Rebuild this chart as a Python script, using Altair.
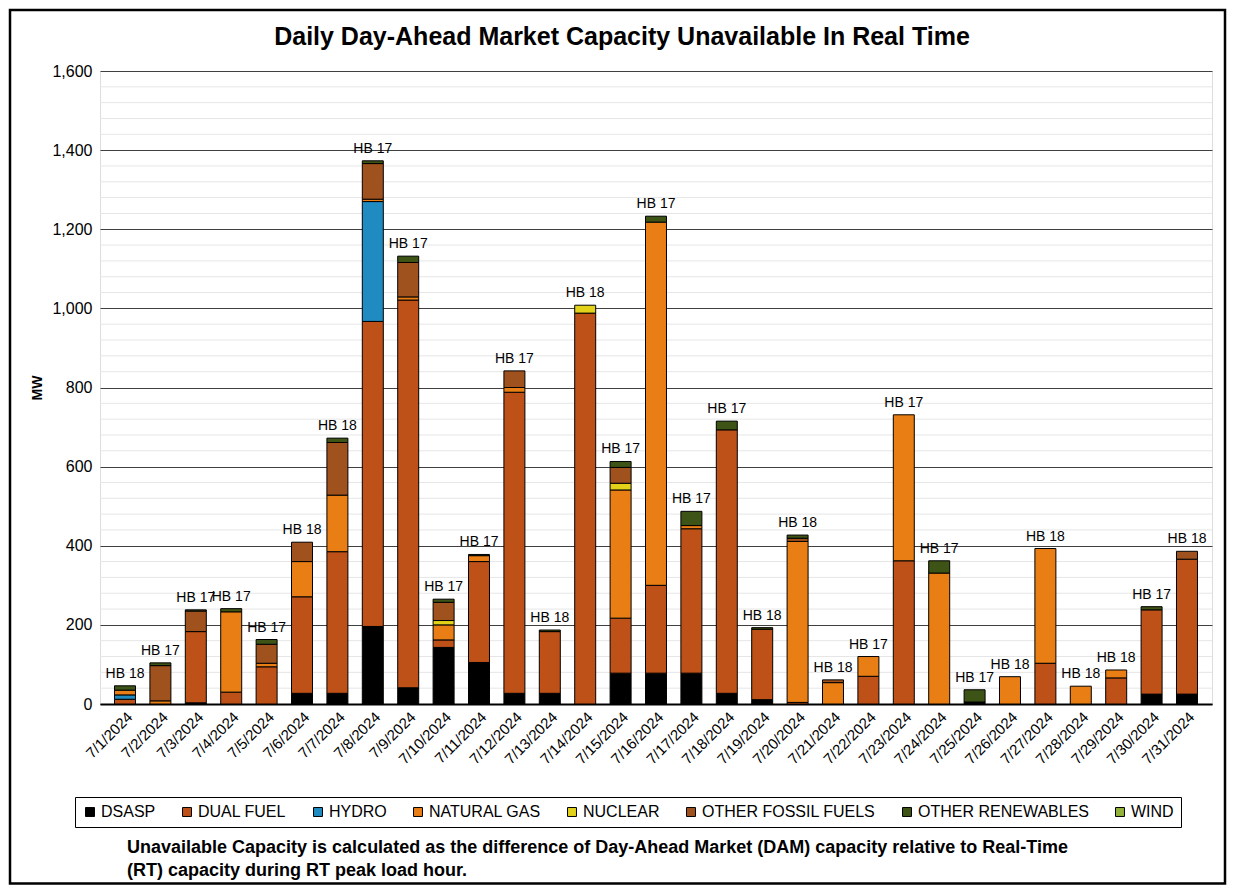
import altair as alt
import pandas as pd

# ---------------- data ----------------
dates = ["7/1/2024", "7/2/2024", "7/3/2024", "7/4/2024", "7/5/2024", "7/6/2024",
         "7/7/2024", "7/8/2024", "7/9/2024", "7/10/2024", "7/11/2024", "7/12/2024",
         "7/13/2024", "7/14/2024", "7/15/2024", "7/16/2024", "7/17/2024", "7/18/2024",
         "7/19/2024", "7/20/2024", "7/21/2024", "7/22/2024", "7/23/2024", "7/24/2024",
         "7/25/2024", "7/26/2024", "7/27/2024", "7/28/2024", "7/29/2024", "7/30/2024",
         "7/31/2024"]

peak_hour = [18, 17, 17, 17, 17, 18, 18, 17, 17, 17, 17, 17, 18, 18, 17, 17, 17, 17,
             18, 18, 18, 17, 17, 17, 17, 18, 18, 18, 18, 17, 18]

dsasp = [0, 0, 3, 0, 0, 27, 27, 196, 41, 143, 105, 27, 27, 0, 78, 78, 78, 27,
         11, 0, 0, 0, 0, 0, 5, 0, 0, 0, 0, 25, 25]
dual_fuel = [12, 0, 180, 30, 94, 244, 358, 771, 980, 19, 255, 761, 156, 988, 139, 222, 365, 666,
             178, 4, 0, 70, 362, 0, 0, 0, 103, 0, 66, 213, 341]
hydro = [11, 0, 0, 0, 0, 0, 0, 303, 0, 0, 0, 0, 0, 0, 0, 0, 0, 0,
         0, 0, 0, 0, 0, 0, 0, 0, 0, 0, 0, 0, 0]
natural_gas = [12, 8, 0, 203, 9, 89, 143, 6, 8, 38, 15, 12, 0, 0, 324, 918, 8, 0,
               0, 407, 54, 50, 369, 331, 0, 69, 290, 45, 20, 0, 0]
nuclear = [0, 0, 0, 0, 0, 0, 0, 0, 0, 11, 0, 0, 0, 20, 17, 0, 0, 0,
           0, 0, 0, 0, 0, 0, 0, 0, 0, 0, 0, 0, 0]
other_fossil = [0, 89, 52, 0, 48, 49, 133, 90, 87, 46, 0, 42, 0, 0, 40, 0, 0, 0,
                0, 8, 7, 0, 0, 0, 0, 0, 0, 0, 0, 0, 20]
other_renew = [11, 7, 3, 8, 12, 0, 11, 7, 16, 8, 3, 0, 4, 0, 15, 15, 36, 22,
               4, 8, 0, 0, 0, 31, 31, 0, 0, 0, 0, 8, 0]
wind = [0] * 31

series_names = ["DSASP", "DUAL FUEL", "HYDRO", "NATURAL GAS", "NUCLEAR",
                "OTHER FOSSIL FUELS", "OTHER RENEWABLES", "WIND"]
series_values = [dsasp, dual_fuel, hydro, natural_gas, nuclear,
                 other_fossil, other_renew, wind]
series_colors = ["#000000", "#BE5118", "#1F8BC0", "#E97E14", "#E2D21A",
                 "#A0521E", "#3E5316", "#92B23A"]

title_text = "Daily Day-Ahead Market Capacity Unavailable In Real Time"
footnote_lines = [
    "Unavailable Capacity is calculated as the difference of Day-Ahead Market (DAM) capacity relative to Real-Time",
    "(RT) capacity during RT peak load hour.",
]

# ---------------- tables ----------------
rows = []
for k, (name, vals) in enumerate(zip(series_names, series_values)):
    for d, v in zip(dates, vals):
        rows.append({"date": d, "fuel": name, "mw": v, "idx": k})
df = pd.DataFrame(rows)

totals = [sum(vals[i] for vals in series_values) for i in range(len(dates))]
lab_df = pd.DataFrame({"date": dates, "total": totals,
                       "label": [f"HB {h}" for h in peak_hour]})

FONT = "Liberation Sans"
W, H = 1112, 633

x_enc = alt.X("date:N", sort=dates,
              scale=alt.Scale(paddingInner=0.407, paddingOuter=0.41),
              axis=alt.Axis(title=None, labelAngle=-45, labelFontSize=15, labelFont=FONT,
                            labelColor="black", labelPadding=5, ticks=False,
                            domainColor="black", domainWidth=2, grid=False))
y_scale = alt.Scale(domain=[0, 1600], nice=False)

bars = alt.Chart(df).transform_filter("datum.mw > 0").mark_bar(
    stroke="black", strokeWidth=1
).encode(
    x=x_enc,
    y=alt.Y("mw:Q", stack="zero", scale=y_scale,
            axis=alt.Axis(values=list(range(0, 1601, 200)), format=",.0f", title="MW",
                          titleFont=FONT, titleFontSize=14, titleFontWeight="bold",
                          titleColor="black", titleX=-56,
                          labelFont=FONT, labelFontSize=16, labelColor="black",
                          labelPadding=8, ticks=False, domain=False,
                          gridColor="#404040", gridWidth=1)),
    color=alt.Color("fuel:N",
                    scale=alt.Scale(domain=series_names, range=series_colors),
                    legend=alt.Legend(title=None, orient="none", legendX=-25, legendY=726,
                                      direction="horizontal", columns=8,
                                      strokeColor="black", padding=7,
                                      symbolType="square", symbolSize=80,
                                      symbolStrokeColor="black", symbolStrokeWidth=1,
                                      labelFont=FONT, labelFontSize=16, labelColor="black",
                                      labelLimit=400, labelOffset=3, columnPadding=23)),
    order=alt.Order("idx:Q", sort="ascending"),
)

minor_vals = [v for v in range(40, 1600, 40) if v % 200 != 0]
minor = alt.Chart(pd.DataFrame({"v": minor_vals})).mark_rule(
    color="#e6e6e6", strokeWidth=1
).encode(y=alt.Y("v:Q", scale=y_scale), x=alt.value(0), x2=alt.value(W))

labels = alt.Chart(lab_df).mark_text(
    font=FONT, fontSize=14, color="black", baseline="alphabetic", dy=-8
).encode(x=alt.X("date:N", sort=dates), y=alt.Y("total:Q", scale=y_scale),
         text="label:N")

title = alt.Chart(pd.DataFrame({"a": [0]})).mark_text(
    font=FONT, fontSize=25, fontWeight="bold", color="black", align="center",
    baseline="middle"
).encode(x=alt.value(522), y=alt.value(-34), text=alt.value(title_text))

footnote = alt.Chart(pd.DataFrame({"a": [0]})).mark_text(
    font=FONT, fontSize=18, fontWeight="bold", color="black", align="left",
    baseline="middle", lineHeight=23
).encode(x=alt.value(27), y=alt.value(777), text=alt.value(footnote_lines))

frame = alt.Chart(pd.DataFrame({"a": [0]})).mark_rect(
    fillOpacity=0, stroke="black", strokeWidth=2.5
).encode(x=alt.value(-90), x2=alt.value(1125), y=alt.value(-61), y2=alt.value(812.5))

chart = alt.layer(minor, bars, labels, title, footnote, frame).properties(
    width=W, height=H,
    autosize="none",
    padding={"left": 92, "top": 63, "right": 16, "bottom": 181},
).configure_view(stroke="black", strokeWidth=1.5).configure(background="white")

chart.save("out.html", embed_options={"renderer": "svg", "actions": False})
